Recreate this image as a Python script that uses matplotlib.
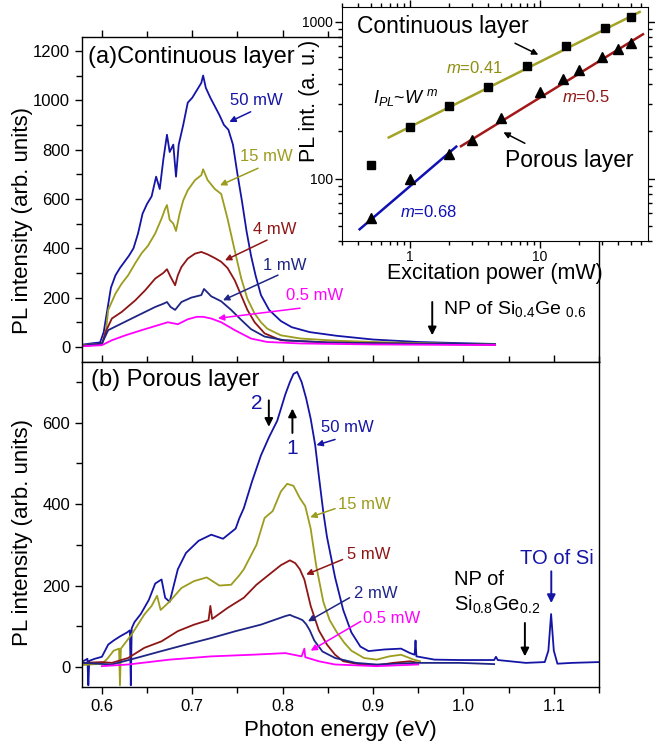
import matplotlib
matplotlib.use('Agg')
import matplotlib.pyplot as plt
from matplotlib.ticker import MultipleLocator, LogLocator, NullFormatter, FuncFormatter

plt.rcParams['font.family'] = ['Liberation Sans', 'DejaVu Sans']
plt.rcParams['mathtext.fontset'] = 'custom'
plt.rcParams['mathtext.rm'] = 'Liberation Sans'
plt.rcParams['mathtext.it'] = 'Liberation Sans:italic'
plt.rcParams['mathtext.default'] = 'regular'

# ---- (a) continuous layer spectra: photon energy (eV) / PL intensity
a50_x = [0.580, 0.590, 0.598, 0.602, 0.606, 0.610, 0.615, 0.620, 0.625, 0.630, 0.635, 0.640, 0.645, 0.650, 0.655,
         0.660, 0.664, 0.668, 0.672, 0.675, 0.679, 0.682, 0.685, 0.690, 0.695, 0.700, 0.705, 0.710, 0.712, 0.715,
         0.720, 0.725, 0.730, 0.735, 0.740, 0.745, 0.750, 0.755, 0.760, 0.765, 0.770, 0.776, 0.785, 0.798, 0.810,
         0.830, 0.860, 0.900, 0.950, 1.000, 1.035]
a50_y = [10, 15, 18, 60, 150, 240, 290, 320, 345, 370, 400, 460, 540, 580, 610,
         690, 640, 760, 860, 790, 820, 690, 820, 900, 990, 1010, 1040, 1070, 1100, 1050,
         1010, 975, 940, 900, 880, 820, 700, 590, 470, 370, 290, 210, 150, 105, 80,
         60, 45, 30, 20, 15, 12]

a15_x = [0.580, 0.600, 0.604, 0.607, 0.615, 0.622, 0.629, 0.637, 0.644, 0.651, 0.659, 0.666, 0.670, 0.672, 0.675,
         0.679, 0.682, 0.686, 0.690, 0.695, 0.703, 0.710, 0.712, 0.717, 0.725, 0.732, 0.739, 0.747, 0.754, 0.761,
         0.769, 0.776, 0.783, 0.798, 0.820, 0.860, 0.920, 1.000, 1.035]
a15_y = [8, 12, 50, 150, 216, 257, 290, 340, 380, 410, 460, 520, 560, 575, 515,
         500, 470, 540, 594, 635, 676, 696, 720, 676, 640, 620, 520, 390, 280, 195,
         135, 100, 74, 47, 34, 25, 18, 12, 10]

a4_x = [0.580, 0.600, 0.604, 0.611, 0.622, 0.637, 0.648, 0.659, 0.668, 0.672, 0.676, 0.681, 0.684, 0.688, 0.695,
        0.703, 0.710, 0.717, 0.725, 0.732, 0.739, 0.747, 0.754, 0.761, 0.769, 0.780, 0.798, 0.850, 0.920, 1.000,
        1.035]
a4_y = [5, 10, 60, 115, 142, 189, 230, 277, 300, 315, 284, 250, 290, 324, 358,
        378, 385, 375, 360, 345, 320, 270, 210, 150, 100, 55, 27, 18, 14, 10,
        8]

a1_x = [0.580, 0.600, 0.607, 0.618, 0.629, 0.644, 0.659, 0.668, 0.672, 0.676, 0.681, 0.688, 0.699, 0.710, 0.713,
        0.721, 0.732, 0.743, 0.754, 0.765, 0.780, 0.802, 0.850, 0.920, 1.000, 1.035]
a1_y = [5, 14, 68, 88, 108, 135, 162, 175, 182, 162, 150, 182, 200, 210, 235,
        205, 185, 150, 110, 72, 42, 27, 18, 14, 12, 10]

a05_x = [0.580, 0.600, 0.611, 0.626, 0.644, 0.662, 0.673, 0.684, 0.695, 0.705, 0.712, 0.721, 0.732, 0.747, 0.765,
         0.783, 0.820, 0.900, 1.000, 1.035]
a05_y = [3, 7, 27, 47, 68, 88, 100, 92, 112, 122, 122, 115, 100, 68, 34,
         20, 14, 10, 8, 8]

# ---- (b) porous layer spectra
b50_x = [0.580, 0.584, 0.585, 0.586, 0.592, 0.600, 0.607, 0.613, 0.620, 0.628, 0.631, 0.632, 0.633, 0.636, 0.643,
         0.652, 0.659, 0.666, 0.670, 0.675, 0.684, 0.693, 0.707, 0.721, 0.734, 0.748, 0.752, 0.757, 0.766, 0.776,
         0.785, 0.794, 0.803, 0.808, 0.812, 0.816, 0.821, 0.826, 0.831, 0.836, 0.840, 0.845, 0.849, 0.858, 0.867,
         0.876, 0.886, 0.895, 0.913, 0.931, 0.941, 0.946, 0.947, 0.948, 0.968, 0.996, 1.034, 1.036, 1.038, 1.069,
         1.090, 1.094, 1.097, 1.100, 1.104, 1.120, 1.150]
b50_y = [15, 20, -45, 15, 20, 25, 55, 65, 75, 85, 90, -45, 95, 110, 130,
         165, 205, 215, 170, 160, 240, 280, 310, 325, 315, 340, 365, 390, 455, 520,
         565, 605, 670, 700, 720, 725, 700, 660, 610, 545, 470, 380, 320, 220, 140,
         85, 50, 39, 43, 45, 34, 30, 65, 26, 18, 17, 17, 25, 17, 10,
         12, 40, 130, 40, 8, 10, 12]

b15_x = [0.580, 0.600, 0.606, 0.613, 0.619, 0.620, 0.621, 0.633, 0.647, 0.655, 0.661, 0.665, 0.675, 0.688, 0.702,
         0.716, 0.730, 0.743, 0.752, 0.757, 0.771, 0.780, 0.789, 0.798, 0.805, 0.812, 0.819, 0.825, 0.831, 0.837,
         0.845, 0.852, 0.860, 0.868, 0.876, 0.890, 0.904, 0.918, 0.931, 0.945, 0.952]
b15_y = [5, 8, 20, 40, 45, -45, 45, 80, 129, 150, 175, 140, 161, 194, 211,
         220, 200, 202, 225, 240, 300, 366, 383, 431, 450, 445, 415, 395, 340, 250,
         160, 115, 85, 60, 40, 22, 18, 26, 30, 18, 14]

b5_x = [0.580, 0.600, 0.611, 0.629, 0.647, 0.666, 0.684, 0.702, 0.718, 0.720, 0.722, 0.739, 0.757, 0.771, 0.785,
        0.798, 0.808, 0.814, 0.819, 0.824, 0.831, 0.840, 0.849, 0.858, 0.867, 0.886, 0.904, 0.922, 0.941, 0.950]
b5_y = [10, 12, 10, 22, 47, 63, 88, 104, 115, 150, 118, 145, 170, 202, 227,
        250, 262, 255, 240, 215, 150, 90, 55, 30, 14, 6, 4, 10, 14, 10]

b2_x = [0.580, 0.611, 0.638, 0.666, 0.693, 0.721, 0.748, 0.776, 0.794, 0.803, 0.808, 0.812, 0.817, 0.822, 0.826,
        0.830, 0.835, 0.844, 0.858, 0.881, 0.904, 0.950, 0.996, 1.034]
b2_y = [10, 6, 22, 39, 55, 71, 88, 104, 118, 125, 128, 124, 120, 115, 105,
        90, 65, 38, 22, 10, 6, 10, 10, 7]

b05_x = [0.600, 0.629, 0.675, 0.721, 0.766, 0.803, 0.821, 0.824, 0.825, 0.840, 0.858, 0.904, 0.950]
b05_y = [2, 6, 18, 26, 30, 34, 26, 45, 24, 14, 6, 2, 6]

# ---- inset: integrated PL vs excitation power
sq_x = [0.5, 1, 2, 4, 8, 16, 32, 50]
sq_y = [122, 214, 290, 384, 524, 700, 908, 1076]
tri_x = [0.5, 1, 2, 3, 5, 10, 15, 20, 30, 40, 50]
tri_y = [56, 99, 144, 176, 242, 357, 435, 492, 593, 676, 735]
fit_cont_x, fit_cont_y = [0.69, 58.7], [183, 1158]
fit_hi_x, fit_hi_y = [2.48, 62.2], [161, 834]
fit_lo_x, fit_lo_y = [0.412, 2.28], [47.5, 160]

c_blue = '#1414a6'
c_navy = '#1e2585'
c_olive = '#9c9c1e'
c_red = '#8e1616'
c_mag = '#ff00ff'
lw_spec = 1.3

fig = plt.figure(figsize=(6.55, 7.5), dpi=100)
ax_a = fig.add_axes([0.1252, 0.5177, 0.7893, 0.4326])
ax_b = fig.add_axes([0.1252, 0.0836, 0.7893, 0.4341])
ins = fig.add_axes([0.5217, 0.6787, 0.4676, 0.3116])


def note(ax, txt, tx, ty, tail, head, color, fs=12):
    ax.text(tx, ty, txt, color=color, fontsize=fs, ha='left', va='center')
    ax.annotate('', xy=head, xytext=tail,
                arrowprops=dict(arrowstyle='-|>', color=color, lw=1.1, mutation_scale=9,
                                shrinkA=0, shrinkB=0))


def arrow(ax, tail, head, color='black', lw=1.4, ms=12, coords='data'):
    ax.annotate('', xy=head, xytext=tail, xycoords=coords, textcoords=coords,
                arrowprops=dict(arrowstyle='-|>', color=color, lw=lw, mutation_scale=ms,
                                shrinkA=0, shrinkB=0))


for ax in (ax_a, ax_b):
    ax.set_xlim(0.578, 1.15)
    ax.xaxis.set_major_locator(MultipleLocator(0.1))
    ax.xaxis.set_minor_locator(MultipleLocator(0.05))
    ax.yaxis.set_major_locator(MultipleLocator(200))
    ax.yaxis.set_minor_locator(MultipleLocator(100))
    ax.tick_params(which='major', length=5, width=1, labelsize=12, direction='out')
    ax.tick_params(which='minor', length=4, width=1, direction='out')
    for s in ax.spines.values():
        s.set_linewidth(1.0)

# panel (a)
ax_a.plot(a50_x, a50_y, color=c_blue, lw=lw_spec)
ax_a.plot(a15_x, a15_y, color=c_olive, lw=lw_spec)
ax_a.plot(a4_x, a4_y, color=c_red, lw=lw_spec)
ax_a.plot(a1_x, a1_y, color=c_navy, lw=lw_spec)
ax_a.plot(a05_x, a05_y, color=c_mag, lw=lw_spec)
ax_a.set_ylim(-60, 1255)
ax_a.tick_params(axis='x', which='both', bottom=False, top=True, labelbottom=False)
ax_a.set_ylabel('PL intensity (arb. units)', fontsize=16)
ax_a.yaxis.set_label_coords(-0.095, 0.434)
ax_a.text(0.0116, 0.94, '(a)Continuous layer', transform=ax_a.transAxes, fontsize=17, va='center')

note(ax_a, '50 mW', 0.7417, 1000, (0.7646, 953), (0.741, 912), c_blue)
note(ax_a, '15 mW', 0.7528, 773, (0.7727, 724), (0.7307, 655), c_olive)
note(ax_a, '4 mW', 0.7672, 477, (0.7827, 433), (0.7362, 351), c_red)
note(ax_a, '1 mW', 0.7782, 331, (0.7948, 291), (0.734, 189), c_navy)
note(ax_a, '0.5 mW', 0.8037, 210, (0.8192, 157), (0.7284, 116), c_mag)
arrow(ax_a, (0.9655, 182), (0.9655, 47))
ax_a.text(0.9773, 153, 'NP of Si$_{0.4}$Ge $_{0.6}$', fontsize=14, va='center')

# panel (b)
ax_b.plot(b50_x, b50_y, color=c_blue, lw=lw_spec)
ax_b.plot(b15_x, b15_y, color=c_olive, lw=lw_spec)
ax_b.plot(b5_x, b5_y, color=c_red, lw=lw_spec)
ax_b.plot(b2_x, b2_y, color=c_navy, lw=lw_spec)
ax_b.plot(b05_x, b05_y, color=c_mag, lw=lw_spec)
ax_b.set_ylim(-50, 750)
ax_b.set_yticks([0, 200, 400, 600])
ax_b.tick_params(axis='x', which='both', top=True)
ax_b.xaxis.set_major_formatter(FuncFormatter(lambda v, p: '%.1f' % v))
ax_b.set_xlabel('Photon energy (eV)', fontsize=16)
ax_b.xaxis.set_label_coords(0.5, -0.1)
ax_b.set_ylabel('PL intensity (arb. units)', fontsize=16)
ax_b.yaxis.set_label_coords(-0.095, 0.474)
ax_b.text(0.0168, 0.944, '(b) Porous layer', transform=ax_b.transAxes, fontsize=17, va='center')

ax_b.text(0.771, 647, '2', color=c_blue, fontsize=15, ha='center', va='center')
arrow(ax_b, (0.7847, 655), (0.7847, 590))
arrow(ax_b, (0.8108, 575), (0.8108, 635))
ax_b.text(0.8108, 538, '1', color=c_blue, fontsize=15, ha='center', va='center')
note(ax_b, '50 mW', 0.842, 588, (0.858, 559), (0.8374, 545), c_blue)
note(ax_b, '15 mW', 0.8617, 398, (0.858, 389), (0.8305, 368), c_olive)
note(ax_b, '5 mW', 0.8708, 276, (0.8663, 264), (0.826, 227), c_red)
note(ax_b, '2 mW', 0.8786, 180, (0.874, 170), (0.828, 112), c_navy)
note(ax_b, '0.5 mW', 0.889, 119, (0.8864, 112), (0.831, 40), c_mag)
ax_b.text(1.1032, 266, 'TO of Si', color=c_blue, fontsize=14.5, ha='center', va='center')
arrow(ax_b, (1.0972, 235), (1.0972, 157), color=c_blue)
ax_b.text(0.99, 215, 'NP of', fontsize=14.5, va='center')
ax_b.text(0.99, 153, 'Si$_{0.8}$Ge$_{0.2}$', fontsize=14.5, va='center')
arrow(ax_b, (1.068, 108), (1.068, 26))

# inset
ins.set_xscale('log')
ins.set_yscale('log')
ins.plot(fit_cont_x, fit_cont_y, color='#a3a326', lw=1.8)
ins.plot(fit_hi_x, fit_hi_y, color='#a31818', lw=1.8)
ins.plot(fit_lo_x, fit_lo_y, color='#1010b4', lw=1.8)
ins.plot(sq_x, sq_y, 's', color='black', ms=5.5)
ins.plot(tri_x, tri_y, '^', color='black', ms=6.5)
ins.set_xlim(0.3, 68)
ins.set_ylim(40, 1240)
ins.xaxis.set_major_locator(LogLocator(base=10, numticks=10))
ins.yaxis.set_major_locator(LogLocator(base=10, numticks=10))
ins.xaxis.set_minor_locator(LogLocator(base=10, subs=range(2, 10), numticks=10))
ins.yaxis.set_minor_locator(LogLocator(base=10, subs=range(2, 10), numticks=10))
ins.xaxis.set_major_formatter(FuncFormatter(lambda v, p: '%g' % v))
ins.yaxis.set_major_formatter(FuncFormatter(lambda v, p: '%g' % v))
ins.xaxis.set_minor_formatter(NullFormatter())
ins.yaxis.set_minor_formatter(NullFormatter())
ins.tick_params(which='both', top=True, right=True, direction='out', labelsize=10, width=1, pad=1.5)
ins.tick_params(which='major', length=5)
ins.tick_params(which='minor', length=3)
ins.set_xlabel('Excitation power (mW)', fontsize=15.5)
ins.xaxis.set_label_coords(0.5, -0.095)
ins.set_ylabel('PL int. (a. u.)', fontsize=15.5)
ins.yaxis.set_label_coords(-0.07, 0.6)

ins.text(0.05, 0.916, 'Continuous layer', transform=ins.transAxes, fontsize=16.5, va='center')
arrow(ins, (0.566, 0.846), (0.642, 0.797), lw=1.1, ms=9, coords='axes fraction')
ins.text(0.341, 0.74, '$\\mathit{m}$=0.41', transform=ins.transAxes, color='#8f8f12', fontsize=12, va='center')
ins.text(0.102, 0.616, '$\\mathit{I_{PL}}$~$\\mathit{W}^{\\ \\mathit{m}}$', transform=ins.transAxes,
         fontsize=13, va='center')
ins.text(0.72, 0.615, '$\\mathit{m}$=0.5', transform=ins.transAxes, color=c_red, fontsize=12, va='center')
ins.text(0.534, 0.344, 'Porous layer', transform=ins.transAxes, fontsize=16.5, va='center')
arrow(ins, (0.598, 0.418), (0.528, 0.465), lw=1.1, ms=9, coords='axes fraction')
ins.text(0.19, 0.125, '$\\mathit{m}$=0.68', transform=ins.transAxes, color='#1010b4', fontsize=12, va='center')

fig.savefig('out.png', dpi=100)
